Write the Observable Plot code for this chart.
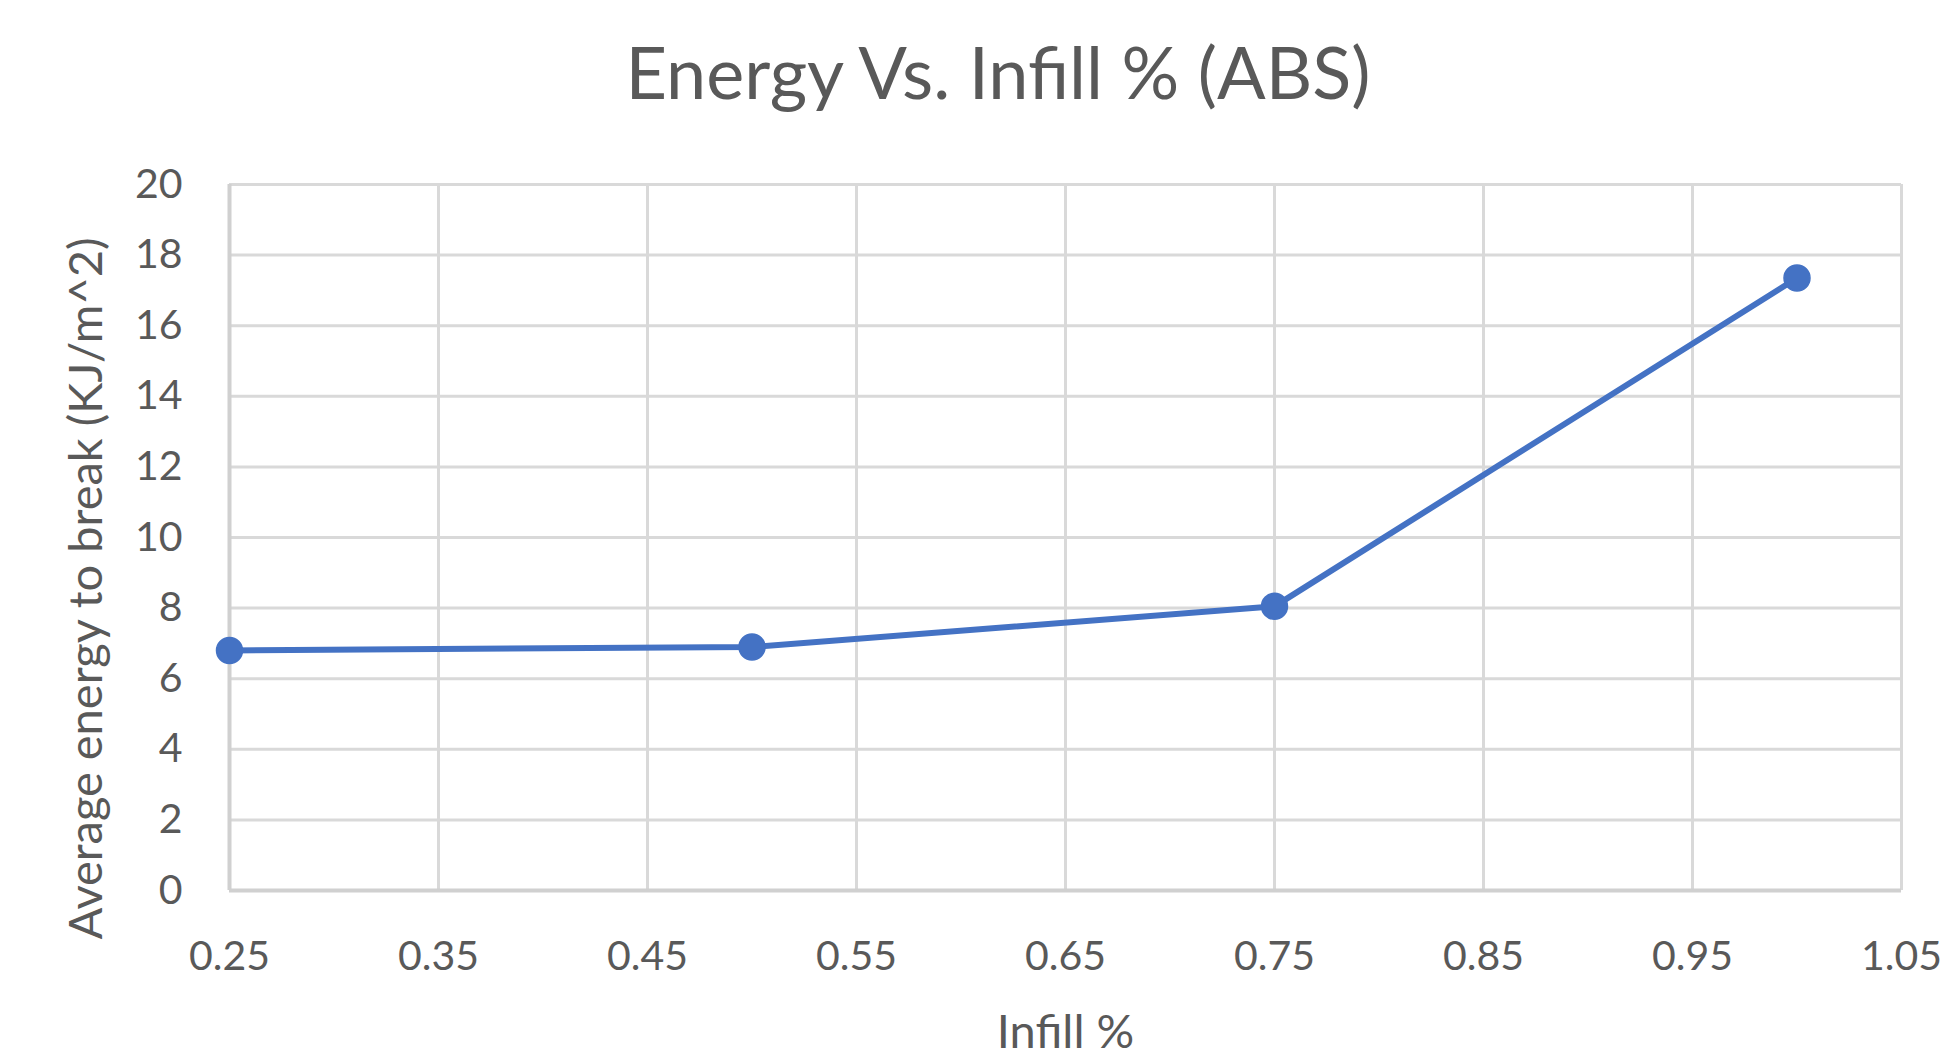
<!DOCTYPE html>
<html>
<head>
<meta charset="utf-8">
<script src="https://cdn.jsdelivr.net/npm/d3@7"></script>
<script src="https://cdn.jsdelivr.net/npm/@observablehq/plot@0.6"></script>
<style>
  html, body { margin: 0; padding: 0; background: #ffffff; overflow: hidden; width: 1944px; height: 1052px; }
  #title {
    position: absolute; top: 35px; left: 998px; transform: translateX(-50%);
    font-family: Lato, "Open Sans", sans-serif; font-size: 72px; line-height: 1; color: #595959;
    white-space: nowrap;
  }
  #chart { position: absolute; top: 130px; left: 0; }
</style>
</head>
<body>
<div id="title">Energy Vs. Infill % (ABS)</div>
<div id="chart"></div>
<script>
const infill = [0.25, 0.5, 0.75, 1.0];
const energy = [6.8, 6.9, 8.05, 17.35];
const xTicks = [0.25, 0.35, 0.45, 0.55, 0.65, 0.75, 0.85, 0.95, 1.05];
const yTicks = [0, 2, 4, 6, 8, 10, 12, 14, 16, 18, 20];
const xLabel = "Infill %";
const yLabel = "Average energy to break (KJ/m^2)";

const data = infill.map((x, i) => ({x, y: energy[i]}));
const blue = "#4472C4";
const grid = "#d9d9d9";

const chart = Plot.plot({
  width: 1944,
  height: 922,
  marginLeft: 229,
  marginRight: 43,
  marginTop: 54,
  marginBottom: 162,
  style: {fontFamily: "Lato, 'Open Sans', sans-serif", fontSize: "41px", color: "#595959", background: "transparent", overflow: "visible"},
  x: {domain: [0.25, 1.05]},
  y: {domain: [0, 20]},
  marks: [
    Plot.gridX(xTicks, {stroke: grid, strokeOpacity: 1, strokeWidth: 3}),
    Plot.gridY(yTicks, {stroke: grid, strokeOpacity: 1, strokeWidth: 3}),
    Plot.ruleY([0], {stroke: "#d0d0d0", strokeWidth: 4}),
    Plot.ruleX([0.25], {stroke: "#d0d0d0", strokeWidth: 4}),
    Plot.axisX(xTicks, {tickSize: 0, tickPadding: 50, tickFormat: d => d.toFixed(2), fill: "#595959", fontSize: 41, label: null}),
    Plot.axisY(yTicks, {tickSize: 0, tickPadding: 47, fill: "#595959", fontSize: 41, label: null}),
    Plot.text([xLabel], {text: d => d, frameAnchor: "bottom", textAnchor: "middle", lineAnchor: "top", dy: 124,
      fill: "#595959", fontSize: 47}),
    Plot.text([yLabel], {text: d => d, frameAnchor: "left", textAnchor: "middle", rotate: -90, lineAnchor: "top", dx: -161, dy: 51,
      fill: "#595959", fontSize: 47}),
    Plot.line(data, {x: "x", y: "y", stroke: blue, strokeWidth: 6}),
    Plot.dot(data, {x: "x", y: "y", r: 13, fill: blue, stroke: blue})
  ]
});
document.getElementById("chart").append(chart);
</script>
</body>
</html>
